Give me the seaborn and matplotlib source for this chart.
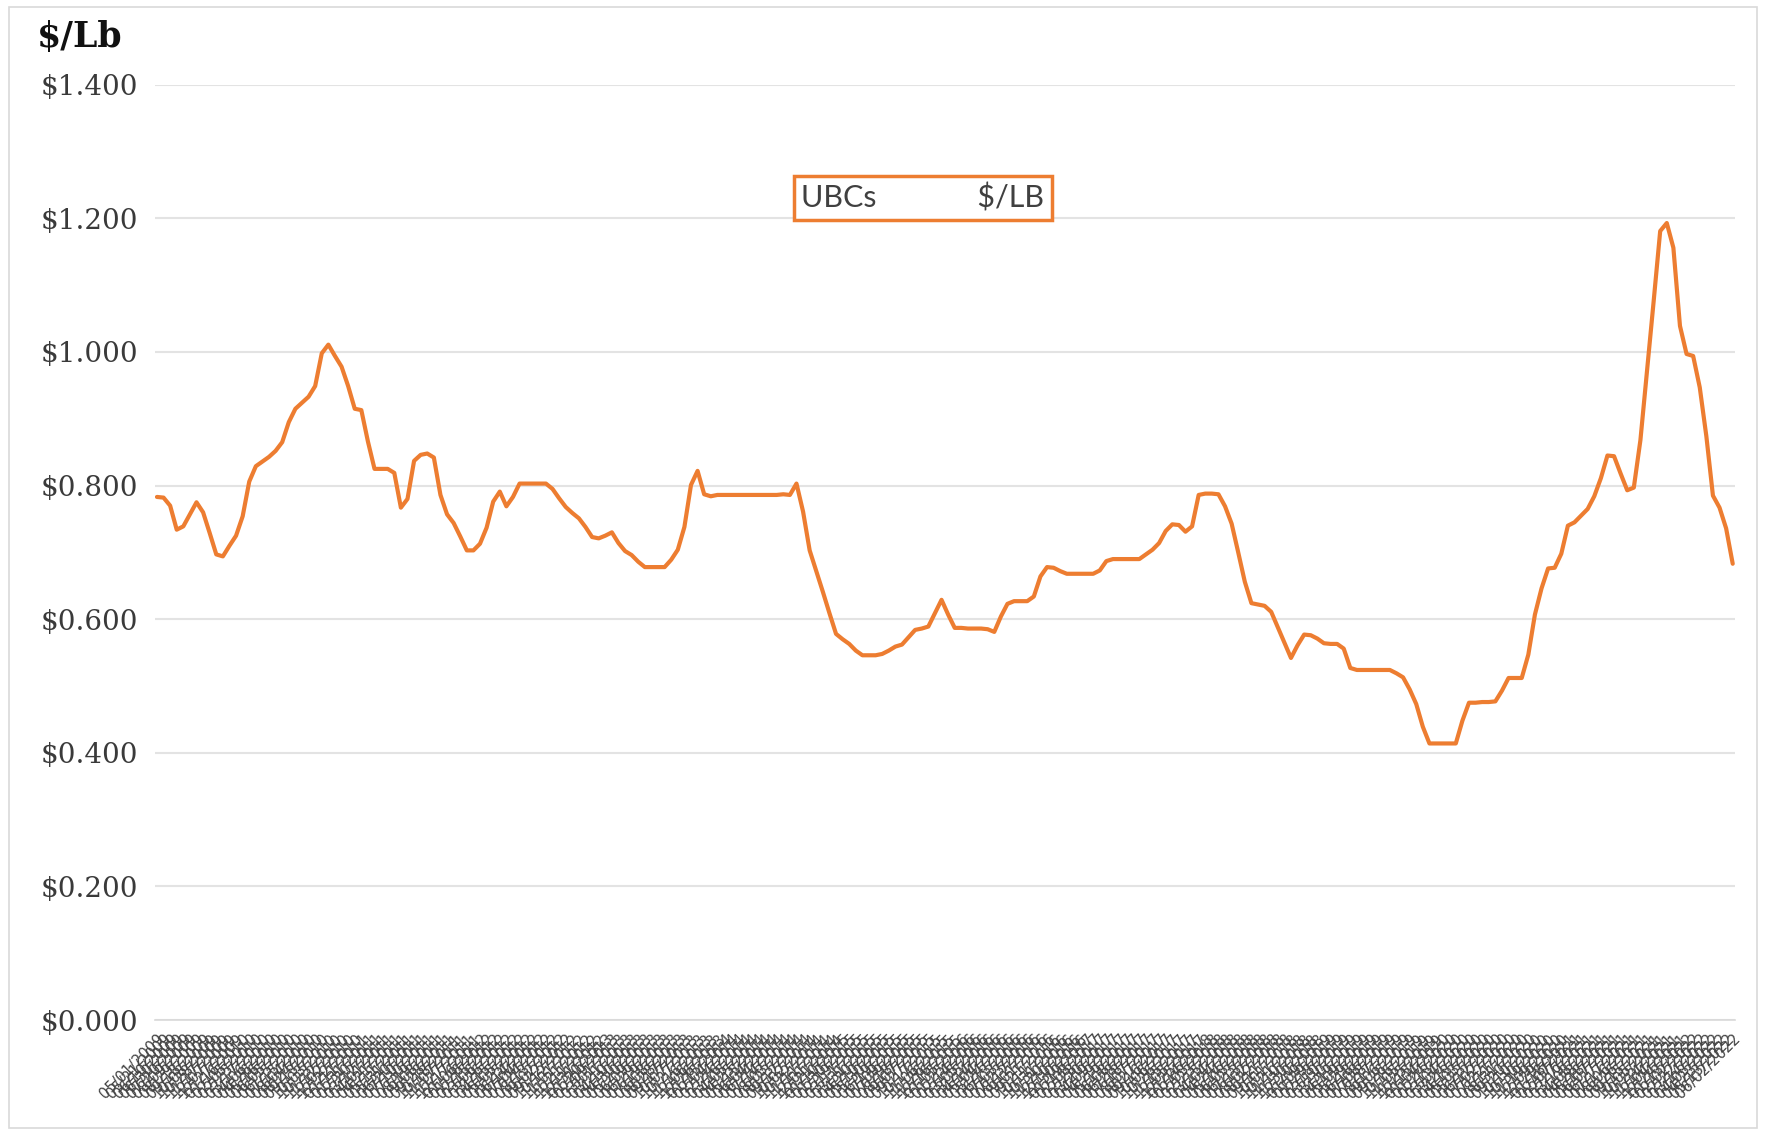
import numpy as np
import pandas as pd
import seaborn as sns
import matplotlib
matplotlib.use("Agg")
from matplotlib import pyplot as plt
from matplotlib.patches import Rectangle

# UBC scrap price, $/lb
ubc_prices = [
    0.783, 0.782, 0.770, 0.734, 0.739, 0.757, 0.775, 0.760, 0.729, 0.697,
    0.694, 0.710, 0.725, 0.754, 0.806, 0.829, 0.836, 0.843, 0.852, 0.865,
    0.895, 0.915, 0.924, 0.933, 0.949, 0.998, 1.011, 0.994, 0.978, 0.949,
    0.915, 0.913, 0.866, 0.825, 0.825, 0.825, 0.819, 0.767, 0.780, 0.837,
    0.846, 0.848, 0.842, 0.786, 0.757, 0.744, 0.724, 0.703, 0.703, 0.713,
    0.737, 0.776, 0.791, 0.769, 0.783, 0.803, 0.803, 0.803, 0.803, 0.803,
    0.795, 0.781, 0.768, 0.759, 0.751, 0.738, 0.723, 0.721, 0.725, 0.730,
    0.714, 0.702, 0.696, 0.686, 0.678, 0.678, 0.678, 0.678, 0.689, 0.704,
    0.738, 0.801, 0.822, 0.787, 0.784, 0.786, 0.786, 0.786, 0.786, 0.786,
    0.786, 0.786, 0.786, 0.786, 0.786, 0.787, 0.786, 0.803, 0.761, 0.703,
    0.672, 0.641, 0.609, 0.578, 0.570, 0.563, 0.553, 0.546, 0.546, 0.546,
    0.548, 0.553, 0.559, 0.562, 0.573, 0.584, 0.586, 0.589, 0.609, 0.629,
    0.607, 0.587, 0.587, 0.586, 0.586, 0.586, 0.585, 0.581, 0.604, 0.623,
    0.627, 0.627, 0.627, 0.634, 0.664, 0.678, 0.677, 0.672, 0.668, 0.668,
    0.668, 0.668, 0.668, 0.673, 0.687, 0.690, 0.690, 0.690, 0.690, 0.690,
    0.697, 0.704, 0.714, 0.732, 0.742, 0.741, 0.731, 0.739, 0.786, 0.788,
    0.788, 0.787, 0.769, 0.743, 0.700, 0.656, 0.624, 0.622, 0.620, 0.611,
    0.588, 0.565, 0.542, 0.561, 0.577, 0.576, 0.571, 0.564, 0.563, 0.563,
    0.556, 0.527, 0.524, 0.524, 0.524, 0.524, 0.524, 0.524, 0.519, 0.513,
    0.495, 0.473, 0.439, 0.414, 0.414, 0.414, 0.414, 0.414, 0.448, 0.475,
    0.475, 0.476, 0.476, 0.477, 0.493, 0.512, 0.512, 0.512, 0.547, 0.607,
    0.646, 0.676, 0.677, 0.698, 0.740, 0.745, 0.755, 0.765, 0.784, 0.811,
    0.845, 0.844, 0.818, 0.793, 0.797, 0.868, 0.971, 1.075, 1.181, 1.193,
    1.156, 1.039, 0.997, 0.994, 0.947, 0.874, 0.785, 0.767, 0.736, 0.683,
]

# report dates (x-axis categories)
report_dates = pd.date_range("2009-05-01", periods=len(ubc_prices), freq="20D")
date_labels = [d.strftime("%m/%d/%Y") for d in report_dates]

y_ticks = [0.0, 0.2, 0.4, 0.6, 0.8, 1.0, 1.2, 1.4]
y_tick_labels = ["$%.3f" % v for v in y_ticks]

series_name = "UBCs             $/LB"
unit_label = "$/Lb"

df = pd.DataFrame({"idx": np.arange(len(ubc_prices)), "price": ubc_prices})

sns.set_theme(style="white")
plt.rcParams["font.family"] = ["DejaVu Sans"]

fig = plt.figure(figsize=(17.71, 11.33), dpi=100)
ax = fig.add_axes([0.0875, 0.0997, 0.892, 0.8255])

sns.lineplot(data=df, x="idx", y="price", ax=ax, color="#ED7D31", linewidth=3.0)

ax.set_ylim(0, 1.4)
ax.set_xlim(-0.3, len(ubc_prices) - 0.7)
ax.set_yticks(y_ticks)
ax.set_yticklabels(y_tick_labels, family="DejaVu Serif", fontsize=20, color="#3a3a3a")
ax.yaxis.grid(True, color="#e3e3e3", linewidth=1.5)
ax.tick_params(axis="y", length=0, pad=12)

ax.set_xticks(df["idx"])
ax.set_xticklabels(date_labels, rotation=45, ha="right", rotation_mode="anchor",
                   fontsize=10.5, color="#444444")
ax.tick_params(axis="x", length=5, width=0.8, color="#d0d0d0", pad=3, direction="out")

for s in ["top", "right", "left"]:
    ax.spines[s].set_visible(False)
ax.spines["bottom"].set_color("#d9d9d9")
ax.spines["bottom"].set_linewidth(1.2)

ax.set_xlabel("")
ax.set_ylabel("")

fig.text(0.021, 0.967, unit_label, family="DejaVu Serif", fontweight="bold",
         fontsize=25, color="#111111", va="center", ha="left")

ax.text(0.486, 0.879, series_name, transform=ax.transAxes, fontsize=22,
        family=["Lato", "DejaVu Sans"], color="#404040", ha="center", va="center",
        bbox=dict(boxstyle="square,pad=0.25", facecolor="white",
                  edgecolor="#ED7D31", linewidth=2.5))

fig.patches.append(Rectangle((0.005, 0.004), 0.987, 0.99, transform=fig.transFigure,
                             fill=False, edgecolor="#d9d9d9", linewidth=1.2))

fig.savefig("out.png", dpi=100, facecolor="white")
